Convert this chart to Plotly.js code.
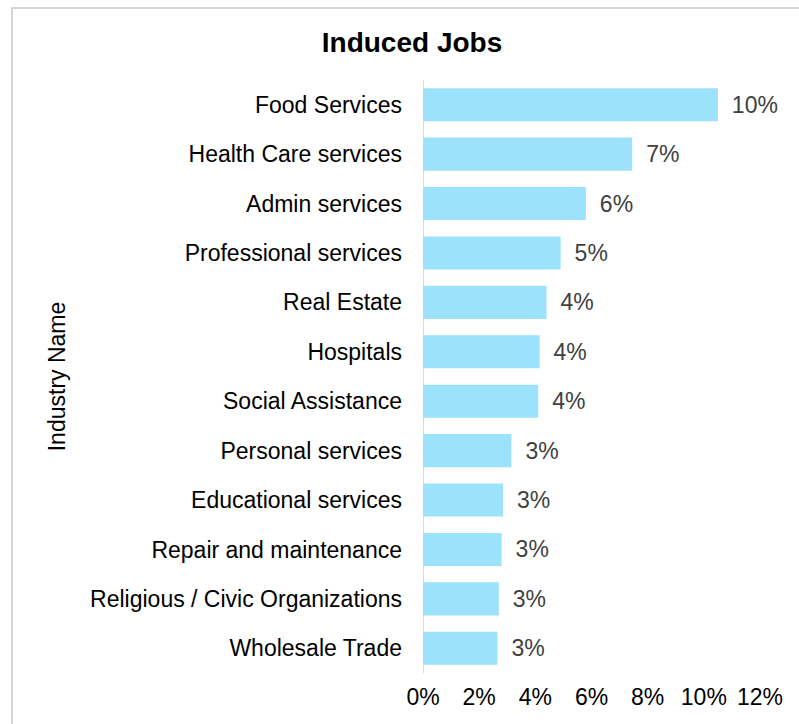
<!DOCTYPE html>
<html>
<head>
<meta charset="utf-8">
<script src="https://cdn.plot.ly/plotly-3.0.1.min.js"></script>
<style>html,body{margin:0;padding:0;background:#fff;}#chart{width:799px;height:724px;}</style>
</head>
<body>
<div id="chart"></div>
<script>
const industries = [
  "Food Services",
  "Health Care services",
  "Admin services",
  "Professional services",
  "Real Estate",
  "Hospitals",
  "Social Assistance",
  "Personal services",
  "Educational services",
  "Repair and maintenance",
  "Religious / Civic Organizations",
  "Wholesale Trade"
];
const shares = [10.5, 7.45, 5.8, 4.9, 4.4, 4.15, 4.1, 3.15, 2.85, 2.8, 2.7, 2.65];
const shareLabels = ["10%", "7%", "6%", "5%", "4%", "4%", "4%", "3%", "3%", "3%", "3%", "3%"];
const xTicks = [0, 2, 4, 6, 8, 10, 12];

const font = "Liberation Sans, Arial, sans-serif";

const trace = {
  type: "bar",
  orientation: "h",
  y: industries,
  x: shares,
  text: shareLabels,
  texttemplate: "\u00a0\u2009%{text}",
  textposition: "outside",
  cliponaxis: false,
  textfont: {family: font, size: 23, color: "#404040"},
  marker: {color: "#9de2fc"},
  width: 0.67,
  hoverinfo: "skip"
};

const layout = {
  width: 799,
  height: 724,
  margin: {l: 423, r: 39, t: 80, b: 51},
  paper_bgcolor: "#ffffff",
  plot_bgcolor: "#ffffff",
  showlegend: false,
  font: {family: font, color: "#000000"},
  title: {
    text: "<b>Induced Jobs</b>",
    font: {family: font, size: 28, color: "#000000"},
    x: 412 / 799,
    xanchor: "center",
    y: 1 - 42 / 724,
    yanchor: "middle"
  },
  xaxis: {
    range: [0, 12],
    tickvals: xTicks,
    ticktext: xTicks.map(v => v + "%"),
    showgrid: false,
    zeroline: false,
    showline: false,
    ticks: "",
    ticklabelstandoff: 8,
    tickfont: {family: font, size: 23, color: "#000000"},
    fixedrange: true
  },
  yaxis: {
    autorange: "reversed",
    type: "category",
    showgrid: false,
    zeroline: false,
    showline: false,
    ticks: "",
    ticklabelstandoff: 20,
    tickfont: {family: font, size: 23, color: "#000000"},
    title: {text: "Industry Name", font: {family: font, size: 23, color: "#000000"}, standoff: 18},
    fixedrange: true
  },
  shapes: [
    {type: "line", xref: "x", yref: "paper", x0: 0, x1: 0, y0: 0, y1: 1, line: {color: "#d0d0d0", width: 1.5}},
    {type: "rect", xref: "paper", yref: "paper", x0: (12 - 423) / 337, x1: 2, y0: -0.5, y1: (673 - 8) / 593, line: {color: "#c8c8c8", width: 1.5}, fillcolor: "rgba(0,0,0,0)"}
  ]
};

Plotly.newPlot("chart", [trace], layout, {displayModeBar: false, staticPlot: true});
</script>
</body>
</html>
